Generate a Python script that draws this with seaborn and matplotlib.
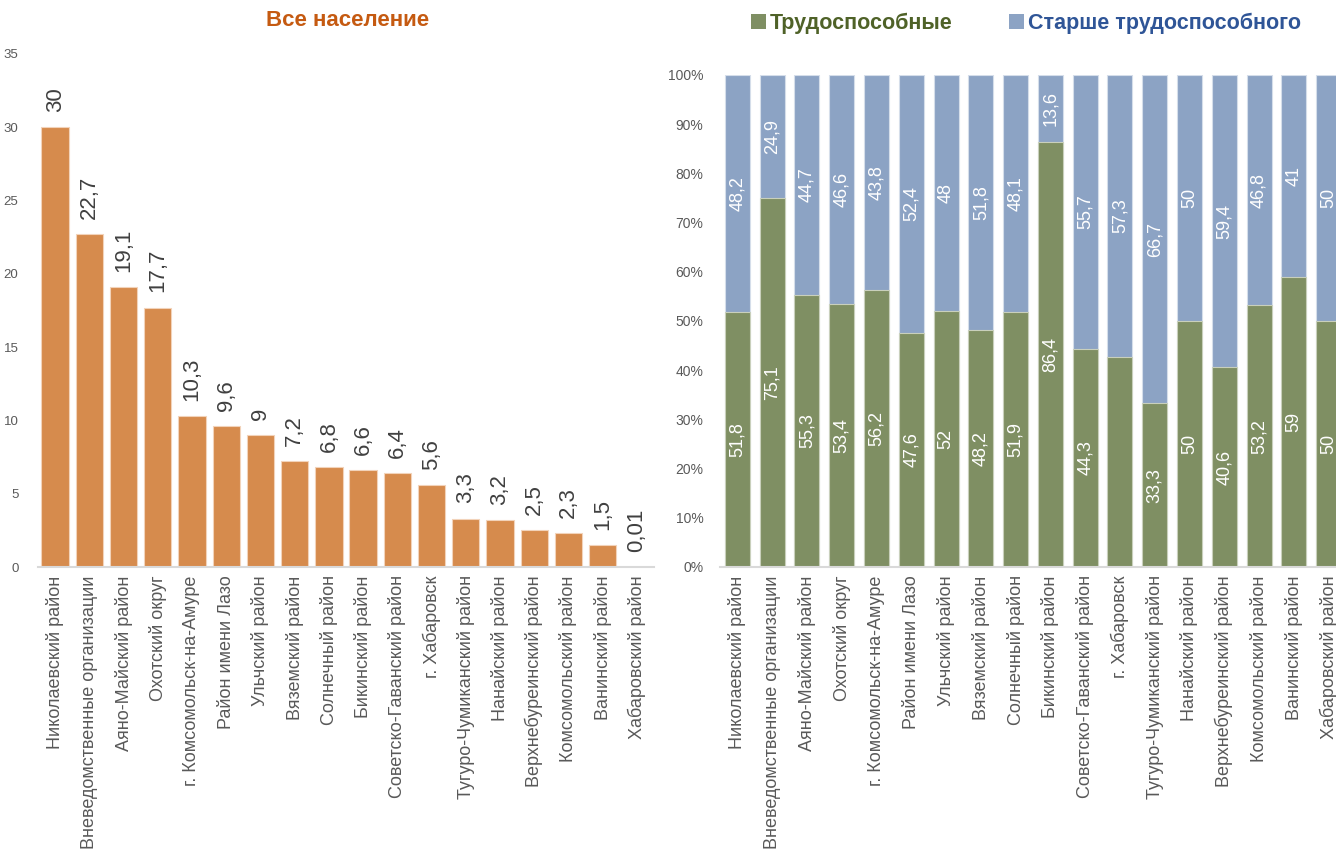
import matplotlib
matplotlib.use("Agg")
import matplotlib.pyplot as plt
import seaborn as sns
import numpy as np
import pandas as pd
from matplotlib.patches import Patch

sns.set_theme(style="white")
plt.rcParams["font.family"] = ["Liberation Sans", "DejaVu Sans"]

# Left panel: whole population
left_categories = [
    "Николаевский район", "Вневедомственные организации", "Аяно-Майский район",
    "Охотский округ", "г. Комсомольск-на-Амуре", "Район имени Лазо",
    "Ульчский район", "Вяземский район", "Солнечный район", "Бикинский район",
    "Советско-Гаванский район", "г. Хабаровск", "Тугуро-Чумиканский район",
    "Нанайский район", "Верхнебуреинский район", "Комсомольский район",
    "Ванинский район", "Хабаровский район",
]
left_values = [30, 22.7, 19.1, 17.7, 10.3, 9.6, 9, 7.2, 6.8, 6.6, 6.4, 5.6,
               3.3, 3.2, 2.5, 2.3, 1.5, 0.01]

# Right panel: working age vs. older than working age (share, %)
right_categories = [
    "Николаевский район", "Вневедомственные организации", "Аяно-Майский район",
    "Охотский округ", "г. Комсомольск-на-Амуре", "Район имени Лазо",
    "Ульчский район", "Вяземский район", "Солнечный район", "Бикинский район",
    "Советско-Гаванский район", "г. Хабаровск", "Тугуро-Чумиканский район",
    "Нанайский район", "Верхнебуреинский район", "Комсомольский район",
    "Ванинский район", "Хабаровский район",
]
working_age = [51.8, 75.1, 55.3, 53.4, 56.2, 47.6, 52, 48.2, 51.9, 86.4,
               44.3, 42.7, 33.3, 50, 40.6, 53.2, 59, 50]
working_age_labels = ["51,8", "75,1", "55,3", "53,4", "56,2", "47,6", "52",
                      "48,2", "51,9", "86,4", "44,3", "", "33,3", "50", "40,6",
                      "53,2", "59", "50"]
older_age = [48.2, 24.9, 44.7, 46.6, 43.8, 52.4, 48, 51.8, 48.1, 13.6,
             55.7, 57.3, 66.7, 50, 59.4, 46.8, 41, 50]

ORANGE = "#D68B4D"
GREEN = "#7F8F63"
BLUE = "#8CA3C4"
TICK_GREY = "#595959"
AXIS_GREY = "#D9D9D9"


def fmt(v):
    return f"{v:g}".replace(".", ",")


fig = plt.figure(figsize=(13.36, 8.5), dpi=100)

# ---- left panel ----
ax1 = fig.add_axes([38 / 1336, 1 - 567 / 850, 616 / 1336, (567 - 54) / 850])
df_left = pd.DataFrame({"cat": left_categories, "val": left_values})
sns.barplot(data=df_left, x="cat", y="val", color=ORANGE, saturation=1,
            width=0.8, edgecolor="#F2D3BA", linewidth=0.8, ax=ax1)
ax1.set_ylim(0, 35)
ax1.set_xlim(-0.5, len(left_categories) - 0.5)
ax1.set_yticks(np.arange(0, 36, 5))
ax1.set_xlabel("")
ax1.set_ylabel("")
ax1.tick_params(axis="y", labelsize=9.5, labelcolor=TICK_GREY, length=0, pad=14)
ax1.tick_params(axis="x", labelsize=13, labelcolor=TICK_GREY, length=0, rotation=90, pad=6)
for s in ["top", "right", "left"]:
    ax1.spines[s].set_visible(False)
ax1.spines["bottom"].set_color(AXIS_GREY)
ax1.spines["bottom"].set_linewidth(1.5)
ax1.bar_label(ax1.containers[0], labels=[fmt(v) for v in left_values],
              rotation=90, padding=11, fontsize=16, color="#404040")
fig.text(348 / 1336, 1 - 21 / 850, "Все население", ha="center", va="center",
         fontsize=16, fontweight="bold", color="#C55A11")

# ---- right panel ----
ax2 = fig.add_axes([720 / 1336, 1 - 567 / 850, 626 / 1336, (567 - 75) / 850])
totals = [g + o for g, o in zip(working_age, older_age)]
df_right = pd.DataFrame({"cat": right_categories, "total": totals,
                         "work": working_age})
sns.barplot(data=df_right, x="cat", y="total", color=BLUE, saturation=1,
            width=0.72, edgecolor="#D5DEEA", linewidth=0.8, ax=ax2)
sns.barplot(data=df_right, x="cat", y="work", color=GREEN, saturation=1,
            width=0.72, edgecolor="#C9D0BC", linewidth=0.8, ax=ax2)
ax2.set_ylim(0, 100)
ax2.set_xlim(-0.5, len(right_categories) - 0.5)
ax2.set_yticks(np.arange(0, 101, 10))
ax2.set_yticklabels([f"{t}%" for t in range(0, 101, 10)])
ax2.set_xlabel("")
ax2.set_ylabel("")
ax2.tick_params(axis="y", labelsize=10, labelcolor=TICK_GREY, length=0, pad=12)
ax2.tick_params(axis="x", labelsize=13, labelcolor=TICK_GREY, length=0, rotation=90, pad=6)
for s in ["top", "right", "left"]:
    ax2.spines[s].set_visible(False)
ax2.spines["bottom"].set_color(AXIS_GREY)
ax2.spines["bottom"].set_linewidth(1.5)

blue_bars = ax2.containers[0]
green_bars = ax2.containers[1]
# older share labels sit in the middle of the upper segment
for bar, g, o in zip(blue_bars, working_age, older_age):
    ax2.text(bar.get_x() + bar.get_width() / 2, g + o / 2, fmt(o), rotation=90,
             ha="center", va="center", color="white", fontsize=13)
ax2.bar_label(green_bars, labels=working_age_labels, label_type="center",
              rotation=90, color="white", fontsize=13)

handles = [Patch(facecolor=GREEN, edgecolor="none"),
           Patch(facecolor=BLUE, edgecolor="none")]
leg = fig.legend(handles, ["Трудоспособные", "Старше трудоспособного"],
                 loc="center", bbox_to_anchor=(1026 / 1336, 1 - 23 / 850), ncol=2,
                 frameon=False, handlelength=0.7, handleheight=0.7,
                 handletextpad=0.2, columnspacing=2.6,
                 prop={"weight": "bold", "size": 15.5})
leg.get_texts()[0].set_color("#4F6228")
leg.get_texts()[1].set_color("#2F5597")

fig.savefig("out.png", dpi=100)
